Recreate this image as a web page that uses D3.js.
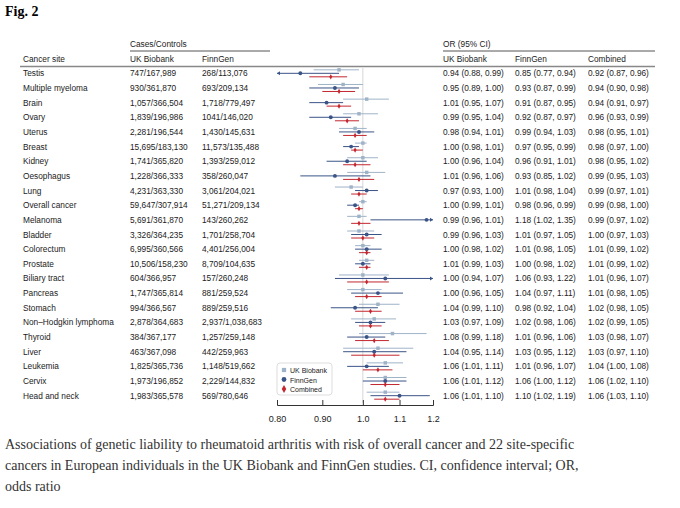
<html>
<script src="https://d3js.org/d3.v7.min.js"></script>
<body style="margin:0;background:#fff">
<div id="chart"></div>
<script>
const sites = ["Testis","Multiple myeloma","Brain","Ovary","Uterus","Breast","Kidney","Oesophagus","Lung","Overall cancer","Melanoma","Bladder","Colorectum","Prostate","Biliary tract","Pancreas","Stomach","Non\u2013Hodgkin lymphoma","Thyroid","Liver","Leukemia","Cervix","Head and neck"];
const ukCases = ["747/167,989","930/361,870","1,057/366,504","1,839/196,986","2,281/196,544","15,695/183,130","1,741/365,820","1,228/366,333","4,231/363,330","59,647/307,914","5,691/361,870","3,326/364,235","6,995/360,566","10,506/158,230","604/366,957","1,747/365,814","994/366,567","2,878/364,683","384/367,177","463/367,098","1,825/365,736","1,973/196,852","1,983/365,578"];
const fgCases = ["268/113,076","693/209,134","1,718/779,497","1041/146,020","1,430/145,631","11,573/135,488","1,393/259,012","358/260,047","3,061/204,021","51,271/209,134","143/260,262","1,701/258,704","4,401/256,004","8,709/104,635","157/260,248","881/259,524","889/259,516","2,937/1,038,683","1,257/259,148","442/259,963","1,148/519,662","2,229/144,832","569/780,646"];
// [OR, lower, upper]
const ukOR = [[0.94,0.88,0.99],[0.95,0.89,1.00],[1.01,0.95,1.07],[0.99,0.95,1.04],[0.98,0.94,1.01],[1.00,0.98,1.01],[1.00,0.96,1.04],[1.01,0.96,1.06],[0.97,0.93,1.00],[1.00,0.99,1.01],[0.99,0.96,1.01],[0.99,0.96,1.03],[1.00,0.98,1.02],[1.01,0.99,1.03],[1.00,0.94,1.07],[1.00,0.96,1.05],[1.04,0.99,1.10],[1.03,0.97,1.09],[1.08,0.99,1.18],[1.04,0.95,1.14],[1.06,1.01,1.11],[1.06,1.01,1.12],[1.06,1.01,1.10]];
const fgOR = [[0.85,0.77,0.94],[0.93,0.87,0.99],[0.91,0.87,0.95],[0.92,0.87,0.97],[0.99,0.94,1.03],[0.97,0.95,0.99],[0.96,0.91,1.01],[0.93,0.85,1.02],[1.01,0.98,1.04],[0.98,0.96,0.99],[1.18,1.02,1.35],[1.01,0.97,1.05],[1.01,0.98,1.05],[1.00,0.98,1.02],[1.06,0.93,1.22],[1.04,0.97,1.11],[0.98,0.92,1.04],[1.02,0.98,1.06],[1.01,0.96,1.06],[1.03,0.95,1.12],[1.01,0.96,1.07],[1.06,1.00,1.12],[1.10,1.02,1.19]];
const coOR = [[0.92,0.87,0.96],[0.94,0.90,0.98],[0.94,0.91,0.97],[0.96,0.93,0.99],[0.98,0.95,1.01],[0.98,0.97,1.00],[0.98,0.95,1.02],[0.99,0.95,1.03],[0.99,0.97,1.01],[0.99,0.98,1.00],[0.99,0.97,1.02],[1.00,0.97,1.03],[1.01,0.99,1.02],[1.01,0.99,1.02],[1.01,0.96,1.07],[1.01,0.98,1.05],[1.02,0.98,1.05],[1.02,0.99,1.05],[1.03,0.98,1.07],[1.03,0.97,1.10],[1.04,1.00,1.08],[1.06,1.02,1.10],[1.06,1.03,1.10]];
const ticks = [0.8,0.9,1.0,1.1,1.2];
const tickLabels = ["0.80","0.90","1.0","1.1","1.2"];

const W = 680, H = 508;
const svg = d3.select("#chart").append("svg").attr("width", W).attr("height", H);
const sans = "Liberation Sans, Arial, sans-serif";
const fmt = d => d3.format(".2f")(d[0]) + " (" + d3.format(".2f")(d[1]) + ", " + d3.format(".2f")(d[2]) + ")";

svg.append("text").attr("x", 5).attr("y", 16).text("Fig. 2")
  .style("font", "bold 14px 'Liberation Serif', serif");

const y = d3.scaleBand().domain(sites).range([66, 403]);
const x = d3.scaleLog().domain([0.8, 1.2]).range([277, 433]);
const ty = d => y(d) + y.bandwidth() / 2;

// headers
const hdr = svg.append("g").style("font", "8.3px " + sans).attr("fill", "#222");
hdr.append("text").attr("x", 130).attr("y", 47).text("Cases/Controls");
hdr.append("text").attr("x", 443).attr("y", 47).text("OR (95% CI)");
hdr.append("line").attr("x1", 130).attr("x2", 270).attr("y1", 51).attr("y2", 51).attr("stroke", "#555");
hdr.append("line").attr("x1", 443).attr("x2", 655).attr("y1", 51).attr("y2", 51).attr("stroke", "#555");
[["Cancer site",23],["UK Biobank",130],["FinnGen",202],["UK Biobank",443],["FinnGen",515],["Combined",588]].forEach(h =>
  hdr.append("text").attr("x", h[1]).attr("y", 62).text(h[0]));
hdr.append("line").attr("x1", 20).attr("x2", 655).attr("y1", 66.5).attr("y2", 66.5).attr("stroke", "#888").attr("stroke-width", 1.5);

const rows = svg.append("g").style("font", "8.3px " + sans).attr("fill", "#222");
sites.forEach((s, i) => {
  const yy = ty(s) + 3;
  rows.append("text").attr("x", 23).attr("y", yy).text(s);
  rows.append("text").attr("x", 130).attr("y", yy).text(ukCases[i]);
  rows.append("text").attr("x", 202).attr("y", yy).text(fgCases[i]);
  rows.append("text").attr("x", 443).attr("y", yy).text(fmt(ukOR[i]));
  rows.append("text").attr("x", 515).attr("y", yy).text(fmt(fgOR[i]));
  rows.append("text").attr("x", 588).attr("y", yy).text(fmt(coOR[i]));
});

// reference line
svg.append("line").attr("x1", x(1)).attr("x2", x(1)).attr("y1", 68).attr("y2", 403)
  .attr("stroke", "#ccc").attr("stroke-width", 0.8);

const series = [
  {data: ukOR, col: "#9fb3c8", dy: -3.5, shape: d3.symbolSquare, size: 12},
  {data: fgOR, col: "#3b5487", dy: 0, shape: d3.symbolCircle, size: 12},
  {data: coOR, col: "#c3272f", dy: 3.5, shape: d3.symbolDiamond, size: 8}
];
const clamp = v => Math.max(0.8, Math.min(1.2, v));
series.forEach(sr => {
  const g = svg.append("g");
  sites.forEach((s, i) => {
    const d = sr.data[i], yy = ty(s) + sr.dy;
    g.append("line").attr("x1", x(clamp(d[1]))).attr("x2", x(clamp(d[2])))
      .attr("y1", yy).attr("y2", yy).attr("stroke", sr.col).attr("stroke-width", 1);
    if (d[1] < 0.8) g.append("path").attr("d", `M${x(0.8)},${yy}l3,-2v4z`).attr("fill", sr.col);
    if (d[2] > 1.2) g.append("path").attr("d", `M${x(1.2)},${yy}l-3,-2v4z`).attr("fill", sr.col);
    g.append("path").attr("d", d3.symbol().type(sr.shape).size(sr.size)())
      .attr("transform", `translate(${x(clamp(d[0]))},${yy})`).attr("fill", sr.col);
  });
});

// axis
const ax = svg.append("g").attr("transform", "translate(0,405)")
  .call(d3.axisBottom(x).tickValues(ticks).tickFormat((d, i) => tickLabels[i]).tickSize(-5).tickPadding(11));
ax.select(".domain").attr("stroke", "#333");
ax.selectAll(".tick line").attr("stroke", "#333");
ax.selectAll("text").style("font", "9px " + sans).attr("fill", "#222");

// legend
const lg = svg.append("g").attr("transform", "translate(277,363)");
lg.append("rect").attr("width", 55).attr("height", 32).attr("rx", 3).attr("fill", "#fff").attr("stroke", "#ddd");
["UK Biobank","FinnGen","Combined"].forEach((t, i) => {
  lg.append("path").attr("d", d3.symbol().type(series[i].shape).size(18)())
    .attr("transform", `translate(7,${7 + i * 9.5})`).attr("fill", series[i].col);
  lg.append("text").attr("x", 13).attr("y", 10 + i * 9.5).text(t).style("font", "7px " + sans).attr("fill", "#222");
});

const cap = ["Associations of genetic liability to rheumatoid arthritis with risk of overall cancer and 22 site-specific",
  "cancers in European individuals in the UK Biobank and FinnGen studies. CI, confidence interval; OR,",
  "odds ratio"];
cap.forEach((c, i) => svg.append("text").attr("x", 5).attr("y", 449 + i * 21).text(c)
  .style("font", "14px 'Liberation Serif', serif").attr("fill", "#333"));
</script>
</body>
</html>
